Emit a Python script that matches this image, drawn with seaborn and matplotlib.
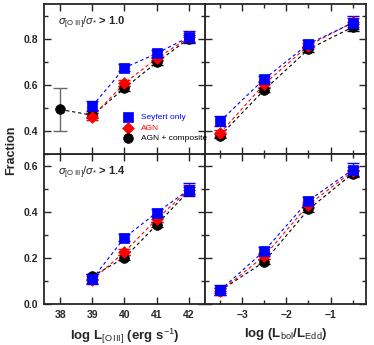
import numpy as np
import pandas as pd
import matplotlib
matplotlib.use("Agg")
import matplotlib.pyplot as plt
from matplotlib.ticker import MultipleLocator
import seaborn as sns

# Data
lo3 = [39, 40, 41, 42]
ledd = [-3.5, -2.5, -1.5, -0.5]

# sigma ratio > 1.0
sey_lo3_10 = [0.508, 0.673, 0.736, 0.807]
agn_lo3_10 = [0.461, 0.607, 0.714, 0.805]
comp_lo3_10 = [0.493, 0.468, 0.585, 0.697, 0.800]   # first point at 38
sey_edd_10 = [0.442, 0.625, 0.777, 0.868]
agn_edd_10 = [0.390, 0.603, 0.770, 0.870]
comp_edd_10 = [0.378, 0.578, 0.754, 0.850]

# sigma ratio > 1.4
sey_lo3_14 = [0.108, 0.287, 0.396, 0.495]
agn_lo3_14 = [0.105, 0.225, 0.368, 0.495]
comp_lo3_14 = [0.120, 0.200, 0.343, 0.490]
sey_edd_14 = [0.059, 0.230, 0.448, 0.582]
agn_edd_14 = [0.055, 0.207, 0.430, 0.575]
comp_edd_14 = [0.057, 0.183, 0.410, 0.565]

# error bars
sey_err = [0.022, 0.015, 0.015, 0.028]
agn_err = [0.015, 0.013, 0.013, 0.020]
comp_err = [0.010, 0.010, 0.010, 0.015]
comp_first_err = 0.092

sns.set_style("ticks")
plt.rcParams['font.family'] = ['Liberation Sans', 'DejaVu Sans']
plt.rcParams['mathtext.fontset'] = 'custom'
plt.rcParams['mathtext.rm'] = 'Liberation Sans'
plt.rcParams['mathtext.it'] = 'Liberation Sans:italic'
plt.rcParams['mathtext.bf'] = 'Liberation Sans:bold'

fig, axes = plt.subplots(2, 2, figsize=(3.74, 3.45), dpi=100)
fig.subplots_adjust(left=0.1176, right=0.9786, bottom=0.119, top=0.9884,
                    wspace=0, hspace=0)

styles = [
    ("Seyfert only", "blue", "s", 7),
    ("AGN", "red", "D", 6),
    ("AGN + composite", "black", "o", 7),
]


def draw(ax, x, series, errs):
    # draw in order: composite, AGN, Seyfert on top
    for (label, color, marker, ms), y, e in reversed(list(zip(styles, series, errs))):
        xs = x if len(y) == len(x) else [38] + list(x)
        df = pd.DataFrame({"x": xs, "y": y})
        sns.lineplot(data=df, x="x", y="y", ax=ax, color=color, lw=0.8,
                     linestyle=(0, (3, 2.5)), zorder=2, legend=False)
        if len(y) != len(x):
            ax.errorbar(xs[1:], y[1:], yerr=e, fmt='none', ecolor=color, elinewidth=0.9,
                        capsize=4, capthick=1.0, zorder=3)
            ax.errorbar([38], [y[0]], yerr=[comp_first_err], fmt='none',
                        ecolor='dimgray', elinewidth=1.0, capsize=5, capthick=1.0, zorder=3)
        else:
            ax.errorbar(xs, y, yerr=e, fmt='none', ecolor=color, elinewidth=0.9,
                        capsize=4, capthick=1.0, zorder=3)
        sns.scatterplot(data=df, x="x", y="y", ax=ax, color=color, marker=marker,
                        s=ms ** 2, edgecolor=color, linewidth=0.5, zorder=4,
                        label=label)


draw(axes[0, 0], lo3, [sey_lo3_10, agn_lo3_10, comp_lo3_10], [sey_err, agn_err, comp_err])
draw(axes[0, 1], ledd, [sey_edd_10, agn_edd_10, comp_edd_10], [sey_err, agn_err, comp_err])
draw(axes[1, 0], lo3, [sey_lo3_14, agn_lo3_14, comp_lo3_14], [sey_err, agn_err, comp_err])
draw(axes[1, 1], ledd, [sey_edd_14, agn_edd_14, comp_edd_14], [sey_err, agn_err, comp_err])

for ax in axes.flat:
    ax.set_xlabel("")
    ax.set_ylabel("")
    ax.tick_params(which='both', direction='in', top=True, right=True, width=1.0)
    ax.tick_params(which='major', length=5, labelsize=7.5, pad=4)
    ax.tick_params(which='minor', length=3)
    for s in ax.spines.values():
        s.set_linewidth(1.3)
    if ax.get_legend() is not None:
        ax.get_legend().remove()

for ax in axes[0]:
    ax.set_ylim(0.30, 0.95)
    ax.yaxis.set_major_locator(MultipleLocator(0.2))
    ax.yaxis.set_minor_locator(MultipleLocator(0.1))
for ax in axes[1]:
    ax.set_ylim(0.0, 0.65)
    ax.yaxis.set_major_locator(MultipleLocator(0.2))
    ax.yaxis.set_minor_locator(MultipleLocator(0.1))
for ax in axes[:, 0]:
    ax.set_xlim(37.5, 42.5)
    ax.xaxis.set_major_locator(MultipleLocator(1))
for ax in axes[:, 1]:
    ax.set_xlim(-3.84, -0.2)
    ax.xaxis.set_major_locator(MultipleLocator(1))
    ax.xaxis.set_minor_locator(MultipleLocator(0.5))
    ax.tick_params(labelleft=False)
for ax in axes[0]:
    ax.tick_params(labelbottom=False)

for ax in axes.flat:
    for lab in ax.get_xticklabels() + ax.get_yticklabels():
        lab.set_fontweight('bold')

axes[0, 0].text(0.09, 0.86, r'$\sigma_{\rm [O\,III]}/\sigma_{*}$ > 1.0',
                transform=axes[0, 0].transAxes, fontsize=8, fontweight='bold')
axes[1, 0].text(0.09, 0.86, r'$\sigma_{\rm [O\,III]}/\sigma_{*}$ > 1.4',
                transform=axes[1, 0].transAxes, fontsize=8, fontweight='bold')

# legend (top-left panel drawn above its neighbour so the text can cross the divider)
axes[0, 0].set_zorder(3)
handles, labels = axes[0, 0].get_legend_handles_labels()
order = [labels.index(s[0]) for s in styles]
leg = axes[0, 0].legend([handles[i] for i in order], [labels[i] for i in order],
                        loc='lower left', bbox_to_anchor=(0.435, 0.04), frameon=False,
                        fontsize=6, handletextpad=0.5, borderpad=0.2, labelspacing=0.3,
                        markerscale=1.0)
for txt, s in zip(leg.get_texts(), styles):
    txt.set_color(s[1])

fig.text(0.03, 0.565, "Fraction", rotation=90, va='center', ha='center',
         fontsize=9, fontweight='bold')
axes[1, 0].set_xlabel(r'log L$_{\rm [O\,III]}$ (erg s$^{-1}$)', fontsize=9.5,
                      fontweight='bold', labelpad=5)
axes[1, 1].set_xlabel(r'log (L$_{\rm bol}$/L$_{\rm Edd}$)', fontsize=9.5,
                      fontweight='bold', labelpad=5)

fig.savefig("out.png", dpi=100)
